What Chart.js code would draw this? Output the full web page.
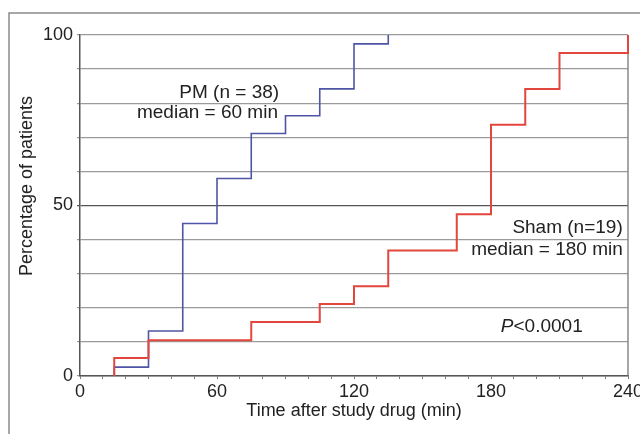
<!DOCTYPE html>
<html>
<head>
<meta charset="utf-8">
<script src="https://cdn.jsdelivr.net/npm/chart.js@4"></script>
<style>
  html, body { margin: 0; padding: 0; background: #fff; }
  #wrap { width: 640px; height: 434px; overflow: hidden; position: relative; }
  #box { width: 660px; height: 434px; }
</style>
</head>
<body>
<div id="wrap"><div id="box"><canvas id="kmChart"></canvas></div></div>
<script>
// cumulative percentage of patients, by time after study drug (min)
// first event at 15 min (curve rises from 0 there)
const pmTimes = [15, 15, 30, 45, 60, 75, 90, 105, 120, 135];
const pmValues = [0, 2.6, 13.2, 44.7, 57.9, 71.1, 76.3, 84.2, 97.4, 100];
const shamTimes = [15, 15, 30, 75, 105, 120, 135, 165, 180, 195, 210, 240];
const shamValues = [0, 5.3, 10.5, 15.8, 21.1, 26.3, 36.8, 47.4, 73.7, 84.2, 94.7, 100];
const xTickLabels = [0, 60, 120, 180, 240];
const yTickLabels = [0, 50, 100];

// text placed in data units: [text, x, y, align]
const notes = [
  ['PM (n = 38)', 87.2, 83.1, 'right'],
  ['median = 60 min', 86.7, 77.3, 'right'],
  ['Sham (n=19)', 237.7, 43.4, 'right'],
  ['median = 180 min', 237.7, 37.0, 'right']
];
const pNote = { x: 184.3, y: 14.4 };

const FONT = "'Liberation Sans', Arial, sans-serif";

function toPoints(xs, ys) {
  return xs.map((t, i) => ({ x: t, y: ys[i] }));
}

const extras = {
  id: 'extras',
  afterDraw(chart) {
    const ctx = chart.ctx;
    const xs = chart.scales.x;
    const ys = chart.scales.y;
    ctx.save();

    // outer frame
    ctx.strokeStyle = '#8a8a8a';
    ctx.lineWidth = 1.5;
    ctx.beginPath();
    ctx.moveTo(9, 434);
    ctx.lineTo(9, 13);
    ctx.lineTo(660, 13);
    ctx.stroke();

    // y title
    ctx.fillStyle = '#222';
    ctx.font = '18px ' + FONT;
    ctx.textAlign = 'center';
    ctx.textBaseline = 'middle';
    ctx.translate(27, ys.getPixelForValue(55.7));
    ctx.rotate(-Math.PI / 2);
    ctx.fillText('Percentage of patients', 0, 0);
    ctx.setTransform(1, 0, 0, 1, 0, 0);

    // annotations
    ctx.font = '19px ' + FONT;
    ctx.textBaseline = 'middle';
    notes.forEach(n => {
      ctx.textAlign = n[3];
      ctx.fillText(n[0], xs.getPixelForValue(n[1]), ys.getPixelForValue(n[2]));
    });
    const px = xs.getPixelForValue(pNote.x);
    const py = ys.getPixelForValue(pNote.y);
    ctx.textAlign = 'left';
    ctx.font = 'italic 19px ' + FONT;
    ctx.fillText('P', px, py);
    const w = ctx.measureText('P').width;
    ctx.font = '19px ' + FONT;
    ctx.fillText('<0.0001', px + w, py);
    ctx.restore();
  },
  beforeDatasetsDraw(chart) {
    // right edge of plot, under the lines
    const ctx = chart.ctx;
    const area = chart.chartArea;
    ctx.save();
    ctx.strokeStyle = '#777';
    ctx.lineWidth = 1.3;
    ctx.beginPath();
    ctx.moveTo(area.right, area.top);
    ctx.lineTo(area.right, area.bottom);
    ctx.stroke();
    ctx.restore();
  }
};

new Chart(document.getElementById('kmChart'), {
  type: 'line',
  data: {
    datasets: [
      {
        label: 'Sham',
        data: toPoints(shamTimes, shamValues),
        borderColor: '#e2463c',
        borderWidth: 2,
        stepped: 'before',
        pointRadius: 0,
        fill: false,
        clip: 4
      },
      {
        label: 'PM',
        data: toPoints(pmTimes, pmValues),
        borderColor: '#4f55a6',
        borderWidth: 1.6,
        stepped: 'before',
        pointRadius: 0,
        fill: false,
        clip: 4
      }
    ]
  },
  options: {
    responsive: true,
    maintainAspectRatio: false,
    animation: false,
    layout: { padding: { left: 10, top: 35, right: 32, bottom: 0 } },
    plugins: {
      legend: { display: false },
      tooltip: { enabled: false }
    },
    scales: {
      x: {
        type: 'linear',
        min: 0,
        max: 240,
        afterFit: (s) => { s.height = 58; },
        ticks: {
          stepSize: 10,
          autoSkip: false,
          maxRotation: 0,
          padding: 2,
          color: '#222',
          font: { family: FONT, size: 18 },
          callback: (v) => xTickLabels.includes(v) ? String(v) : ''
        },
        grid: { drawOnChartArea: false, drawTicks: true, tickLength: 3, color: '#777' },
        border: { color: '#555', width: 1.5 },
        title: {
          display: true,
          text: 'Time after study drug (min)',
          color: '#222',
          font: { family: FONT, size: 18 },
          padding: { top: 0, bottom: 12 }
        }
      },
      y: {
        min: 0,
        max: 100,
        afterFit: (s) => { s.width = 70; },
        ticks: {
          stepSize: 10,
          autoSkip: false,
          padding: 4,
          color: '#222',
          font: { family: FONT, size: 18 },
          callback: (v) => yTickLabels.includes(v) ? String(v) : ''
        },
        grid: {
          color: (c) => c.tick && c.tick.value === 50 ? '#555' : '#9a9a9a',
          lineWidth: 1.3,
          tickLength: 3
        },
        border: { color: '#555', width: 1.5 }
      }
    }
  },
  plugins: [extras]
});
</script>
</body>
</html>
